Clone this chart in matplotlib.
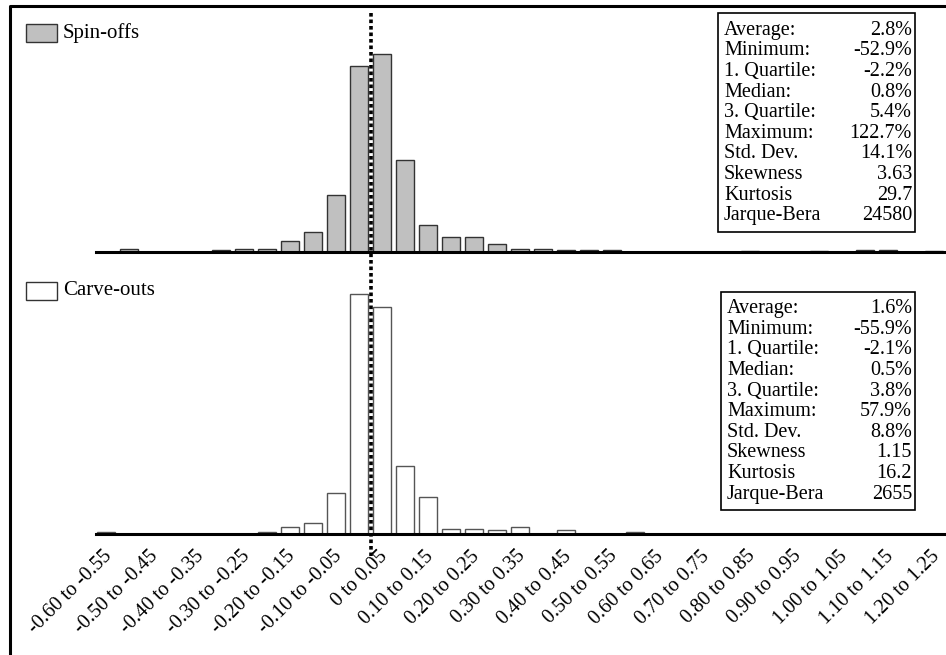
import matplotlib
matplotlib.use("Agg")
import matplotlib.pyplot as plt
from matplotlib.lines import Line2D
from matplotlib.patches import Rectangle
from matplotlib.transforms import ScaledTranslation

W, H = 946, 655
FONT = "Liberation Serif"

# ---------- data (bar heights, relative units) --------------------------------
spin_offs = [0, 3, 0, 0, 0, 1.5, 3, 3, 11, 20, 57, 186, 198, 92, 27, 15, 15, 8,
             3, 3, 2, 2, 2, 0, 0, 0, 0, 0, 1, 0, 0, 1, 0, 2, 2, 0, 1]
carve_outs = [2, 0, 0, 0, 0, 0, 0, 2, 7, 11, 41, 240, 227, 68, 37, 5, 5, 4,
              7, 0, 4, 0, 0, 2, 0, 0, 0, 0, 0, 0, 0, 0, 0, 0, 0, 0, 0]
tick_labels = ["-0.60 to -0.55", "-0.50 to -0.45", "-0.40 to -0.35",
               "-0.30 to -0.25", "-0.20 to -0.15", "-0.10 to -0.05",
               "0 to 0.05", "0.10 to 0.15", "0.20 to 0.25", "0.30 to 0.35",
               "0.40 to 0.45", "0.50 to 0.55", "0.60 to 0.65", "0.70 to 0.75",
               "0.80 to 0.85", "0.90 to 0.95", "1.00 to 1.05", "1.10 to 1.15",
               "1.20 to 1.25"]
stat_names = ["Average:", "Minimum:", "1. Quartile:", "Median:", "3. Quartile:",
              "Maximum:", "Std. Dev.", "Skewness", "Kurtosis", "Jarque-Bera"]
spin_stats = ["2.8%", "-52.9%", "-2.2%", "0.8%", "5.4%", "122.7%", "14.1%",
              "3.63", "29.7", "24580"]
carve_stats = ["1.6%", "-55.9%", "-2.1%", "0.5%", "3.8%", "57.9%", "8.8%",
               "1.15", "16.2", "2655"]


def fx(x):
    return x / W


def fy(y):
    return 1 - y / H


def make_axes(fig, top, base):
    ax = fig.add_axes([fx(96), fy(base), fx(W - 96), (base - top) / H])
    ax.set_xlim(-0.435, 36.52)
    ax.set_ylim(0, base - top)
    for s in ("top", "left", "right"):
        ax.spines[s].set_visible(False)
    ax.spines["bottom"].set_linewidth(2.2)
    ax.set_yticks([])
    ax.patch.set_alpha(0)
    return ax


def stats_box(fig, x0, y0, x1, y1, values):
    fig.add_artist(Rectangle((fx(x0), fy(y1)), fx(x1 - x0), (y1 - y0) / H,
                             transform=fig.transFigure, fill=False,
                             edgecolor="black", lw=1.2))
    for k, (name, val) in enumerate(zip(stat_names, values)):
        y = y0 + 17 + 20.6 * k
        fig.text(fx(x0 + 6), fy(y), name, ha="left", va="center",
                 family=FONT, fontsize=14.5)
        fig.text(fx(x1 - 3), fy(y), val, ha="right", va="center",
                 family=FONT, fontsize=14.5)


def legend_item(fig, y, label, face):
    fig.add_artist(Rectangle((fx(26), fy(y + 9)), fx(31), 18 / H,
                             transform=fig.transFigure, facecolor=face,
                             edgecolor="#333333", lw=1.0))
    fig.text(fx(63), fy(y), label, ha="left", va="center",
             family=FONT, fontsize=15)


fig = plt.figure(figsize=(W / 100, H / 100), dpi=100)

x = list(range(len(spin_offs)))
ax1 = make_axes(fig, 13, 251.5)
ax1.bar(x, spin_offs, width=0.78, color="#c0c0c0", edgecolor="#333333", lw=1.0)
ax1.set_xticks([])

ax2 = make_axes(fig, 270, 534.3)
ax2.bar(x, carve_outs, width=0.78, color="white", edgecolor="#555555", lw=1.0)
ax2.set_xticks(x[::2])
ax2.set_xticklabels(tick_labels, family=FONT, fontsize=14.5)
ax2.tick_params(axis="x", length=0, pad=9)
shift = ScaledTranslation(-4 / 100, 0, fig.dpi_scale_trans)
for lab in ax2.get_xticklabels():
    lab.set_rotation(45)
    lab.set_ha("right")
    lab.set_va("top")
    lab.set_rotation_mode("anchor")
    lab.set_transform(lab.get_transform() + shift)

# dotted line at zero, through both panels
x0 = ax1.transData.transform((11.5, 0))[0] / fig.dpi / fig.get_figwidth()
fig.add_artist(Line2D([x0, x0], [fy(13), fy(556)], color="black", lw=2.6,
                      linestyle=(0, (1, 0.8))))

legend_item(fig, 33, "Spin-offs", "#c0c0c0")
legend_item(fig, 291, "Carve-outs", "white")

stats_box(fig, 718, 13.3, 915, 232.3, spin_stats)
stats_box(fig, 721, 291.7, 915, 510, carve_stats)

# outer frame (left and top edges visible)
fig.add_artist(Line2D([fx(10), fx(10), 1.0], [0, fy(6), fy(6)],
                      color="black", lw=2.2))

fig.savefig("out.png", dpi=100)
